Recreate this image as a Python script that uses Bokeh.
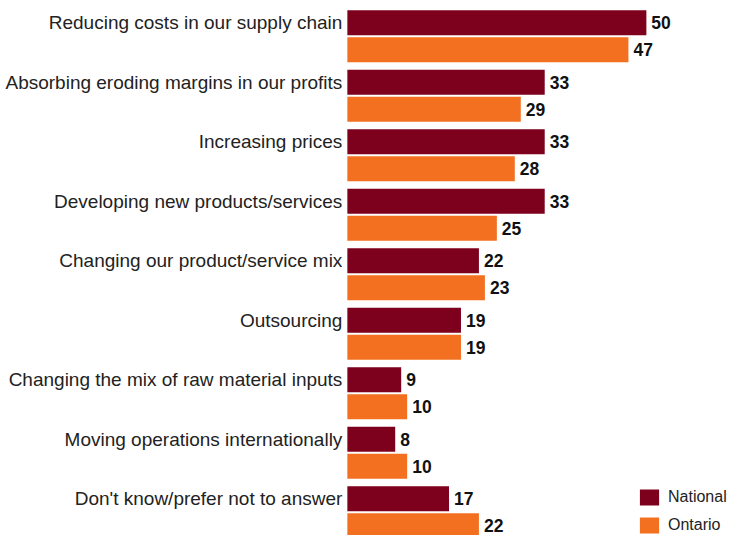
from bokeh.plotting import figure
from bokeh.models import ColumnDataSource, Range1d, Legend, LegendItem
from bokeh.core.properties import value
from bokeh.embed import file_html
from bokeh.resources import INLINE

categories = [
    "Reducing costs in our supply chain",
    "Absorbing eroding margins in our profits",
    "Increasing prices",
    "Developing new products/services",
    "Changing our product/service mix",
    "Outsourcing",
    "Changing the mix of raw material inputs",
    "Moving operations internationally",
    "Don't know/prefer not to answer",
]
national = [50, 33, 33, 33, 22, 19, 9, 8, 17]
ontario = [47, 29, 28, 25, 23, 19, 10, 10, 22]

NAT_COLOR = "#7D001C"
ONT_COLOR = "#F37021"
FONT = "Liberation Sans"

idx = list(range(len(categories)))
off = 0.226
bar_h = 0.42

nat_src = ColumnDataSource(dict(
    y=[i - off for i in idx], v=national, lbl=[str(v) for v in national]))
ont_src = ColumnDataSource(dict(
    y=[i + off for i in idx], v=ontario, lbl=[str(v) for v in ontario]))
cat_src = ColumnDataSource(dict(y=[i - off for i in idx], name=categories))

p = figure(width=729, height=535, output_backend="svg", toolbar_location=None,
           x_range=Range1d(-58.0, 63.9), y_range=Range1d(8.39, -0.601),
           min_border=0, min_border_left=0, min_border_right=0,
           min_border_top=0, min_border_bottom=0)
p.axis.visible = False
p.grid.visible = False
p.outline_line_color = None
p.background_fill_color = "white"

r_nat = p.hbar(y="y", left=0, right="v", height=bar_h, source=nat_src,
               fill_color=NAT_COLOR, line_color=None)
r_ont = p.hbar(y="y", left=0, right="v", height=bar_h, source=ont_src,
               fill_color=ONT_COLOR, line_color=None)

# value labels at bar ends
for src in (nat_src, ont_src):
    p.text(x="v", y="y", text="lbl", source=src, x_offset=5,
           text_align="left", text_baseline="middle",
           text_font=value(FONT), text_font_size="17.5px",
           text_font_style="bold", text_color="#111111")

# category labels to the left of the bars
p.text(x=0, y="y", text="name", source=cat_src, x_offset=-5,
       text_align="right", text_baseline="middle",
       text_font=value(FONT), text_font_size="19px", text_color="#222222")

legend = Legend(items=[LegendItem(label="National", renderers=[r_nat]),
                       LegendItem(label="Ontario", renderers=[r_ont])],
                location=(637, 0), orientation="vertical",
                glyph_width=24, glyph_height=20, label_standoff=7,
                spacing=8, padding=0, margin=0,
                label_text_font=FONT, label_text_font_size="16px",
                label_text_color="#222222",
                border_line_color=None, background_fill_alpha=0)
p.add_layout(legend, "center")

open("out.html", "w").write(file_html(p, INLINE))
